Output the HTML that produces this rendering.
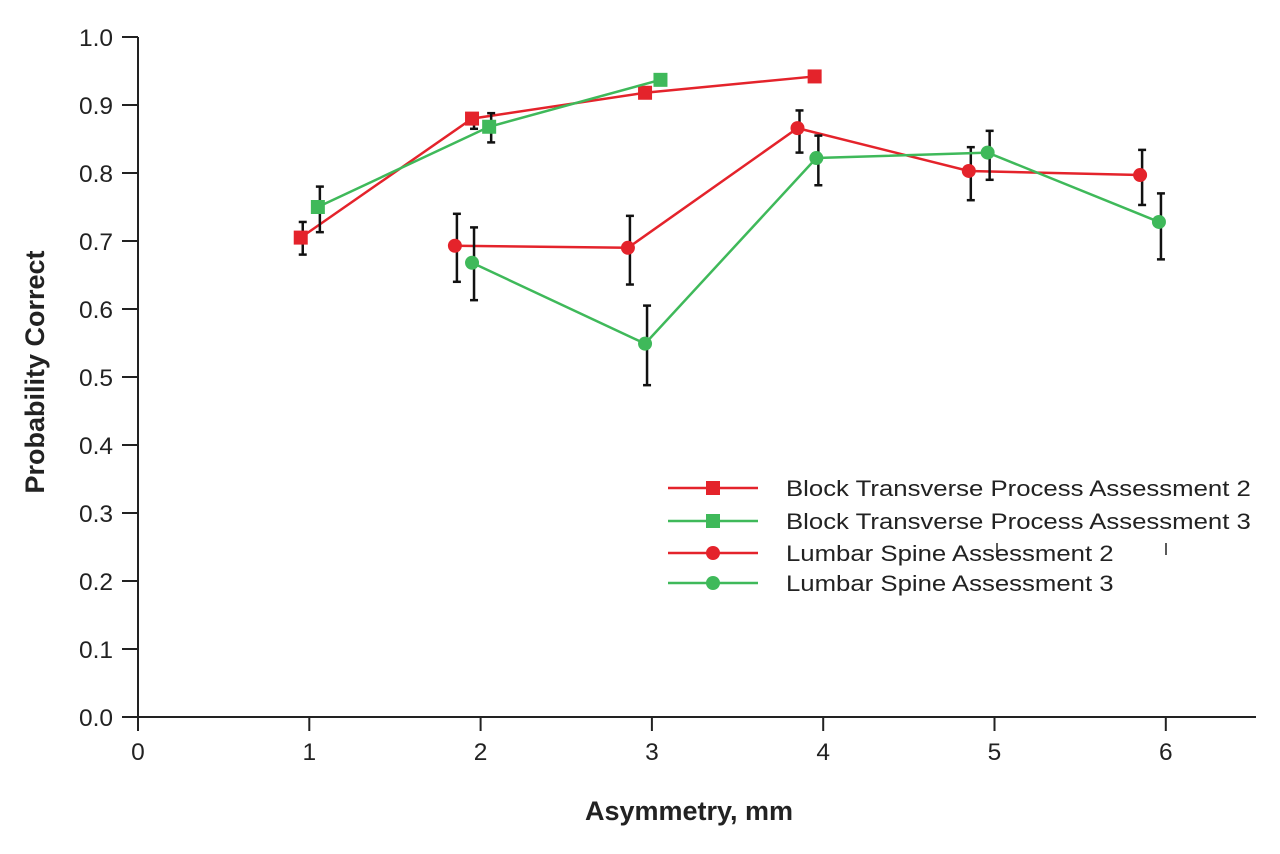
<!DOCTYPE html>
<html><head><meta charset="utf-8"><style>
body{margin:0;background:#fff;}
svg{display:block;font-family:"Liberation Sans",Arial,sans-serif;}
</style></head><body>
<svg id="chart" width="1280" height="854" viewBox="0 0 1280 854"></svg>
<script>
const xTicks=[0,1,2,3,4,5,6];
const yTicks=[0.0,0.1,0.2,0.3,0.4,0.5,0.6,0.7,0.8,0.9,1.0];
const seriesNames=["Block Transverse Process Assessment 2","Block Transverse Process Assessment 3","Lumbar Spine Assessment 2","Lumbar Spine Assessment 3"];
const b2x=[0.95,1.95,2.96,3.95];
const b2y=[0.705,0.88,0.918,0.942];
const b2lo=[0.68,0.865,0.91,null];
const b2hi=[0.728,0.885,0.925,null];
const b3x=[1.05,2.05,3.05];
const b3y=[0.75,0.868,0.937];
const b3lo=[0.713,0.845,null];
const b3hi=[0.78,0.888,null];
const l2x=[1.85,2.86,3.85,4.85,5.85];
const l2y=[0.693,0.69,0.866,0.803,0.797];
const l2lo=[0.64,0.636,0.83,0.76,0.753];
const l2hi=[0.74,0.737,0.892,0.838,0.834];
const l3x=[1.95,2.96,3.96,4.96,5.96];
const l3y=[0.668,0.549,0.822,0.83,0.728];
const l3lo=[0.613,0.488,0.782,0.79,0.673];
const l3hi=[0.72,0.605,0.855,0.862,0.77];

const RED="#e4232b",GREEN="#3fb95a";
const X=v=>138+v*171.3, Y=v=>717-v*680;
const svg=document.getElementById('chart');
const NS="http://www.w3.org/2000/svg";
function mk(tag,attrs,parent){const e=document.createElementNS(NS,tag);for(const k in attrs)e.setAttribute(k,attrs[k]);(parent||svg).appendChild(e);return e;}

let a=mk('line',{x1:138,y1:37,x2:138,y2:717,stroke:'#222','stroke-width':2});


a=mk('line',{x1:138,y1:717,x2:1256,y2:717,stroke:'#222','stroke-width':2});


yTicks.forEach(t=>{
  const y=Y(t);
  const l=mk('line',{x1:122,y1:y,x2:138,y2:y,stroke:'#222','stroke-width':2});
  
  
  const tx=mk('text',{x:113,y:y+9,'text-anchor':'end','font-size':24.5,fill:'#222'});
  tx.textContent=t.toFixed(1);
  
  
});
xTicks.forEach(t=>{
  const x=X(t);
  const l=mk('line',{x1:x,y1:717,x2:x,y2:731,stroke:'#222','stroke-width':2});
  
  
  const tx=mk('text',{x:x,y:760,'text-anchor':'middle','font-size':24.5,fill:'#222'});
  tx.textContent=String(t);
  
  
});
let t=mk('text',{x:689,y:820,'text-anchor':'middle','font-size':27,'font-weight':'bold',fill:'#222'});
t.textContent='Asymmetry, mm';


t=mk('text',{x:0,y:0,'text-anchor':'middle','font-size':27,'font-weight':'bold',fill:'#222',transform:'translate(44,372) rotate(-90)'});
t.textContent='Probability Correct';



function series(xs,ys,lo,hi,color,shape,name){
  const g=mk('g',{});
  
  
  xs.forEach((v,i)=>{
    if(lo[i]==null)return;
    const x=X(v)+2;
    mk('line',{x1:x,y1:Y(lo[i]),x2:x,y2:Y(hi[i]),stroke:'#111','stroke-width':2.5},g);
    mk('line',{x1:x-4,y1:Y(lo[i]),x2:x+4,y2:Y(lo[i]),stroke:'#111','stroke-width':2.5},g);
    mk('line',{x1:x-4,y1:Y(hi[i]),x2:x+4,y2:Y(hi[i]),stroke:'#111','stroke-width':2.5},g);
  });
  mk('polyline',{points:xs.map((v,i)=>X(v)+','+Y(ys[i])).join(' '),fill:'none',stroke:color,'stroke-width':2.5},g);
  xs.forEach((v,i)=>{
    let m;
    if(shape==='sq')m=mk('rect',{x:X(v)-7,y:Y(ys[i])-7,width:14,height:14,fill:color},g);
    else m=mk('circle',{cx:X(v),cy:Y(ys[i]),r:7,fill:color},g);
    
    
  });
}
series(b2x,b2y,b2lo,b2hi,RED,'sq','block-assessment-2-series');
series(l2x,l2y,l2lo,l2hi,RED,'ci','lumbar-assessment-2-series');
series(b3x,b3y,b3lo,b3hi,GREEN,'sq','block-assessment-3-series');
series(l3x,l3y,l3lo,l3hi,GREEN,'ci','lumbar-assessment-3-series');

const colors=[RED,GREEN,RED,GREEN], shapes=['sq','sq','ci','ci'], ly=[488,521,553,583];
seriesNames.forEach((n,i)=>{
  const g=mk('g',{});
  
  
  mk('line',{x1:668,y1:ly[i],x2:758,y2:ly[i],stroke:colors[i],'stroke-width':2.5},g);
  if(shapes[i]==='sq')mk('rect',{x:706,y:ly[i]-7,width:14,height:14,fill:colors[i]},g);
  else mk('circle',{cx:713,cy:ly[i],r:7,fill:colors[i]},g);
  const tx=mk('text',{x:0,y:0,'font-size':22,fill:'#222',transform:'translate(786,'+(ly[i]+8)+') scale(1.17,1)'},g);
  tx.textContent=n;
});
mk('line',{x1:997,y1:543,x2:997,y2:553,stroke:'#222','stroke-width':1.5});
mk('line',{x1:1166,y1:543,x2:1166,y2:555,stroke:'#222','stroke-width':1.5});
</script>
</body></html>
